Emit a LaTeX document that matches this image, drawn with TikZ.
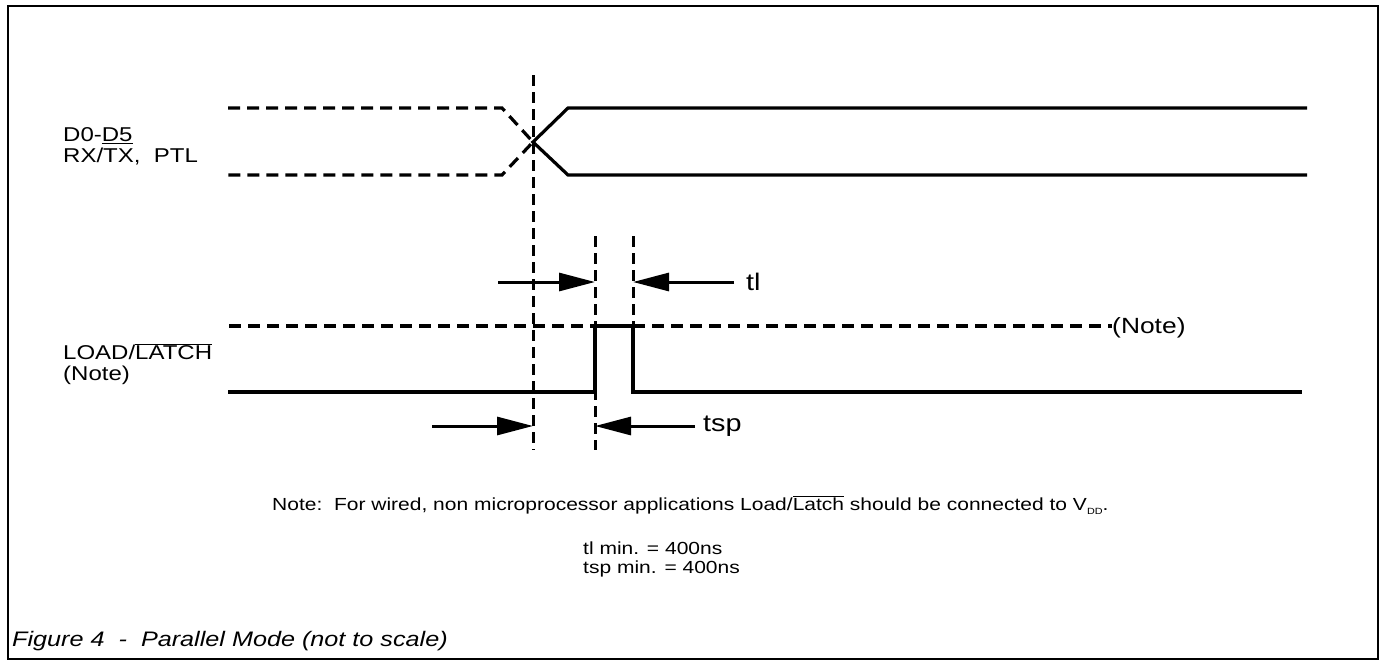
\documentclass[tikz,border=0pt]{standalone}
\usepackage{fontspec}
\setmainfont[FakeStretch=1.2]{Liberation Sans}
\usetikzlibrary{arrows.meta,positioning}

\begin{document}
\begin{tikzpicture}[x=1pt,y=-1pt,
		sig/.style={line width=3.2pt},
		ghost/.style={line width=3.2pt,dash pattern=on 12pt off 7pt},
		guide/.style={line width=3pt,dash pattern=on 11pt off 6pt},
		dim/.style={line width=3pt,-{Triangle[length=36pt,width=18pt]}},
		lbl/.style={font=\fontsize{20}{21}\selectfont,align=left,inner sep=0pt,anchor=west}]
	\useasboundingbox (0,0) rectangle (1383,662);
	\draw[line width=2.8pt] (8,6) rectangle (1378,659);

	% signal names
	\node[lbl] (dname) at (63,146) {D0-\underline{D5}\\RX/TX,\ \ PTL};
	\node[lbl] (lname) at (63,364) {LOAD/$\overline{\mbox{LATCH}}$\\(Note)};

	% data lines
	\coordinate (dX) at (533,142);
	\draw[ghost] (228,108) coordinate (dHiL) -- (502,108) coordinate (dKneeHi) -- (dX)
		-- (502,175) coordinate (dKneeLo) -- (228,175) coordinate (dLoL);
	\draw[sig] (1307,108) coordinate (dHiR) -- (568,108) coordinate (dUp) -- (dX)
		-- (568,175) coordinate (dDn) -- (1307,175) coordinate (dLoR);

	% load/latch
	\node[lbl,font=\fontsize{22}{24}\selectfont] (lnote) at (1112,328) {(Note)};
	\coordinate (pUL) at (595,326);
	\coordinate (pUR) at (633,326);
	\coordinate (pLL) at (595,392);
	\coordinate (pLR) at (633,392);
	\draw[ghost] (229,326) coordinate (lHiL) -- (pUL);
	\draw[ghost] (pUR) -- (pUR -| lnote.west);
	\draw[sig] (228,392) coordinate (lLoL) -- (pLL) -- (pUL) -- (pUR) -- (pLR)
		-- (1302,392) coordinate (lLoR);

	% guides
	\draw[guide] (533,75) coordinate (g1t) -- (533,450) coordinate (g1b);
	\draw[guide] (595,236) coordinate (g2t) -- (595,450) coordinate (g2b);
	\draw[guide] (633,236) coordinate (g3t) -- (pUR);

	% timing marks
	\node[lbl,font=\fontsize{24}{26}\selectfont] (tl) at (746,282) {tl};
	\node[lbl,font=\fontsize{24}{26}\selectfont] (tsp) at (703,426) {tsp};
	\draw[dim] (498,282) coordinate (tlA) -- (g2t |- tlA);
	\draw[dim] ([xshift=-12pt]tl.west) -- (g3t |- tl.west);
	\draw[dim] (432,426) coordinate (tspA) -- (g1t |- tspA);
	\draw[dim] ([xshift=-8pt]tsp.west) -- (g2t |- tsp.west);

	% notes
	\node[lbl,font=\fontsize{17.5}{19}\selectfont] (vnote) at (272,505)
		{Note:\ \ For wired, non microprocessor applications Load/$\overline{\mbox{Latch}}$ should be connected to V\raisebox{-0.5ex}{\fontsize{9}{9}\selectfont DD}.};
	\node[lbl,font=\fontsize{17.5}{19}\selectfont] (tmin) at (583,559)
		{tl min. = 400ns\\tsp min. = 400ns};
	\node[lbl,font=\fontsize{21}{23}\selectfont\itshape] (cap) at (12,641)
		{Figure 4\ \ -\ \ Parallel Mode (not to scale)};
\end{tikzpicture}
\end{document}
